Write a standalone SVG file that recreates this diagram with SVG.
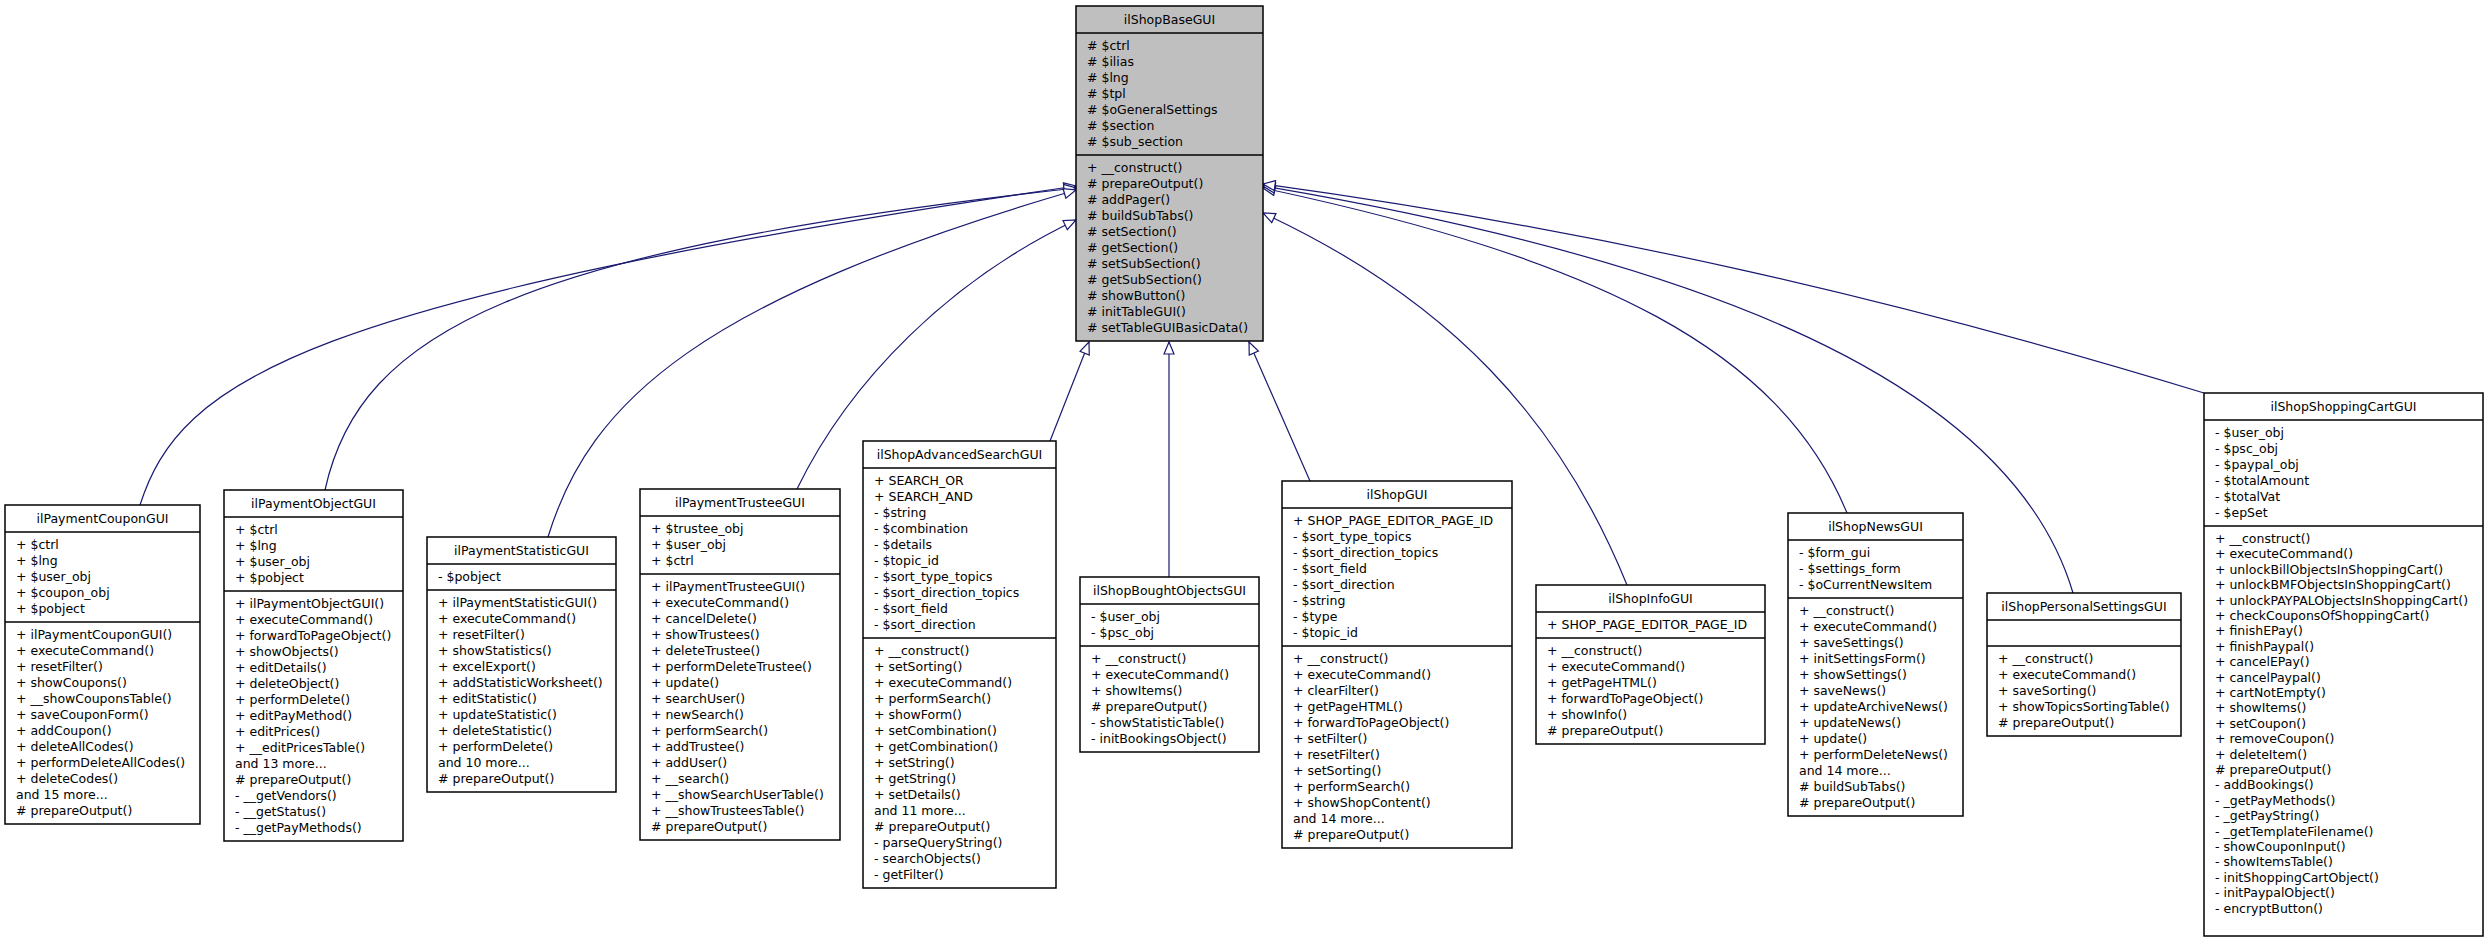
<svg xmlns="http://www.w3.org/2000/svg" width="2488" height="944" viewBox="0 0 2488 944">
<style>
text{font-family:"DejaVu Sans","Liberation Sans",sans-serif;font-size:12.5px;fill:#000}
.h{text-anchor:middle}
.b{fill:#fff;stroke:#000;stroke-width:1.5}
.base{fill:#bfbfbf;stroke:#000;stroke-width:1.5}
.s{stroke:#000;stroke-width:1.5}
.e{fill:none;stroke:#191970;stroke-width:1.2;marker-end:url(#tri)}
</style>
<defs>
<marker id="tri" markerUnits="userSpaceOnUse" markerWidth="14" markerHeight="12" refX="12" refY="5" orient="auto" viewBox="-1 -1 14 12">
<path d="M0,0 L12,5 L0,10 Z" fill="#fff" stroke="#191970" stroke-width="1.2"/>
</marker>
</defs>
<rect width="2488" height="944" fill="#fff"/>
<g id="edges">
<path class="e" d="M140,505 C180,380 300,300 1076,186"/>
<path class="e" d="M325,490 C360,330 520,250 1076,188"/>
<path class="e" d="M548,537 C590,400 700,300 1076,190"/>
<path class="e" d="M797,489 C850,380 950,280 1076,220"/>
<path class="e" d="M1050,441 L1089,342"/>
<path class="e" d="M1169,577 L1169,342"/>
<path class="e" d="M1310,481 L1249,342"/>
<path class="e" d="M1627,585 C1560,420 1450,300 1263,213"/>
<path class="e" d="M1847,513 C1780,350 1600,260 1263,188"/>
<path class="e" d="M2073,593 C2010,380 1700,260 1263,186"/>
<path class="e" d="M2204,393 C1900,300 1600,230 1263,184"/>
</g>
<g id="ilShopBaseGUI">
<rect class="base" x="1076" y="6" width="187" height="335"/>
<line class="s" x1="1076" y1="33" x2="1263" y2="33"/><line class="s" x1="1076" y1="155" x2="1263" y2="155"/>
<text class="h" x="1169.5" y="24">ilShopBaseGUI</text>
<text x="1087" y="50"><tspan x="1087">#  $ctrl</tspan><tspan x="1087" dy="16">#  $ilias</tspan><tspan x="1087" dy="16">#  $lng</tspan><tspan x="1087" dy="16">#  $tpl</tspan><tspan x="1087" dy="16">#  $oGeneralSettings</tspan><tspan x="1087" dy="16">#  $section</tspan><tspan x="1087" dy="16">#  $sub_section</tspan></text>
<text x="1087" y="172"><tspan x="1087">+  __construct()</tspan><tspan x="1087" dy="16">#  prepareOutput()</tspan><tspan x="1087" dy="16">#  addPager()</tspan><tspan x="1087" dy="16">#  buildSubTabs()</tspan><tspan x="1087" dy="16">#  setSection()</tspan><tspan x="1087" dy="16">#  getSection()</tspan><tspan x="1087" dy="16">#  setSubSection()</tspan><tspan x="1087" dy="16">#  getSubSection()</tspan><tspan x="1087" dy="16">#  showButton()</tspan><tspan x="1087" dy="16">#  initTableGUI()</tspan><tspan x="1087" dy="16">#  setTableGUIBasicData()</tspan></text>
</g>
<g id="ilPaymentCouponGUI">
<rect class="b" x="5" y="505" width="195" height="319"/>
<line class="s" x1="5" y1="532" x2="200" y2="532"/><line class="s" x1="5" y1="622" x2="200" y2="622"/>
<text class="h" x="102.5" y="523">ilPaymentCouponGUI</text>
<text x="16" y="549"><tspan x="16">+ $ctrl</tspan><tspan x="16" dy="16">+ $lng</tspan><tspan x="16" dy="16">+ $user_obj</tspan><tspan x="16" dy="16">+ $coupon_obj</tspan><tspan x="16" dy="16">+ $pobject</tspan></text>
<text x="16" y="639"><tspan x="16">+ ilPaymentCouponGUI()</tspan><tspan x="16" dy="16">+ executeCommand()</tspan><tspan x="16" dy="16">+ resetFilter()</tspan><tspan x="16" dy="16">+ showCoupons()</tspan><tspan x="16" dy="16">+ __showCouponsTable()</tspan><tspan x="16" dy="16">+ saveCouponForm()</tspan><tspan x="16" dy="16">+ addCoupon()</tspan><tspan x="16" dy="16">+ deleteAllCodes()</tspan><tspan x="16" dy="16">+ performDeleteAllCodes()</tspan><tspan x="16" dy="16">+ deleteCodes()</tspan><tspan x="16" dy="16">and 15 more...</tspan><tspan x="16" dy="16"># prepareOutput()</tspan></text>
</g>
<g id="ilPaymentObjectGUI">
<rect class="b" x="224" y="490" width="179" height="351"/>
<line class="s" x1="224" y1="517" x2="403" y2="517"/><line class="s" x1="224" y1="591" x2="403" y2="591"/>
<text class="h" x="313.5" y="508">ilPaymentObjectGUI</text>
<text x="235" y="534"><tspan x="235">+ $ctrl</tspan><tspan x="235" dy="16">+ $lng</tspan><tspan x="235" dy="16">+ $user_obj</tspan><tspan x="235" dy="16">+ $pobject</tspan></text>
<text x="235" y="608"><tspan x="235">+ ilPaymentObjectGUI()</tspan><tspan x="235" dy="16">+ executeCommand()</tspan><tspan x="235" dy="16">+ forwardToPageObject()</tspan><tspan x="235" dy="16">+ showObjects()</tspan><tspan x="235" dy="16">+ editDetails()</tspan><tspan x="235" dy="16">+ deleteObject()</tspan><tspan x="235" dy="16">+ performDelete()</tspan><tspan x="235" dy="16">+ editPayMethod()</tspan><tspan x="235" dy="16">+ editPrices()</tspan><tspan x="235" dy="16">+ __editPricesTable()</tspan><tspan x="235" dy="16">and 13 more...</tspan><tspan x="235" dy="16"># prepareOutput()</tspan><tspan x="235" dy="16">- __getVendors()</tspan><tspan x="235" dy="16">- __getStatus()</tspan><tspan x="235" dy="16">- __getPayMethods()</tspan></text>
</g>
<g id="ilPaymentStatisticGUI">
<rect class="b" x="427" y="537" width="189" height="255"/>
<line class="s" x1="427" y1="564" x2="616" y2="564"/><line class="s" x1="427" y1="590" x2="616" y2="590"/>
<text class="h" x="521.5" y="555">ilPaymentStatisticGUI</text>
<text x="438" y="581">- $pobject</text>
<text x="438" y="607"><tspan x="438">+ ilPaymentStatisticGUI()</tspan><tspan x="438" dy="16">+ executeCommand()</tspan><tspan x="438" dy="16">+ resetFilter()</tspan><tspan x="438" dy="16">+ showStatistics()</tspan><tspan x="438" dy="16">+ excelExport()</tspan><tspan x="438" dy="16">+ addStatisticWorksheet()</tspan><tspan x="438" dy="16">+ editStatistic()</tspan><tspan x="438" dy="16">+ updateStatistic()</tspan><tspan x="438" dy="16">+ deleteStatistic()</tspan><tspan x="438" dy="16">+ performDelete()</tspan><tspan x="438" dy="16">and 10 more...</tspan><tspan x="438" dy="16"># prepareOutput()</tspan></text>
</g>
<g id="ilPaymentTrusteeGUI">
<rect class="b" x="640" y="489" width="200" height="351"/>
<line class="s" x1="640" y1="516" x2="840" y2="516"/><line class="s" x1="640" y1="574" x2="840" y2="574"/>
<text class="h" x="740" y="507">ilPaymentTrusteeGUI</text>
<text x="651" y="533"><tspan x="651">+ $trustee_obj</tspan><tspan x="651" dy="16">+ $user_obj</tspan><tspan x="651" dy="16">+ $ctrl</tspan></text>
<text x="651" y="591"><tspan x="651">+ ilPaymentTrusteeGUI()</tspan><tspan x="651" dy="16">+ executeCommand()</tspan><tspan x="651" dy="16">+ cancelDelete()</tspan><tspan x="651" dy="16">+ showTrustees()</tspan><tspan x="651" dy="16">+ deleteTrustee()</tspan><tspan x="651" dy="16">+ performDeleteTrustee()</tspan><tspan x="651" dy="16">+ update()</tspan><tspan x="651" dy="16">+ searchUser()</tspan><tspan x="651" dy="16">+ newSearch()</tspan><tspan x="651" dy="16">+ performSearch()</tspan><tspan x="651" dy="16">+ addTrustee()</tspan><tspan x="651" dy="16">+ addUser()</tspan><tspan x="651" dy="16">+ __search()</tspan><tspan x="651" dy="16">+ __showSearchUserTable()</tspan><tspan x="651" dy="16">+ __showTrusteesTable()</tspan><tspan x="651" dy="16"># prepareOutput()</tspan></text>
</g>
<g id="ilShopAdvancedSearchGUI">
<rect class="b" x="863" y="441" width="193" height="447"/>
<line class="s" x1="863" y1="468" x2="1056" y2="468"/><line class="s" x1="863" y1="638" x2="1056" y2="638"/>
<text class="h" x="959.5" y="459">ilShopAdvancedSearchGUI</text>
<text x="874" y="485"><tspan x="874">+ SEARCH_OR</tspan><tspan x="874" dy="16">+ SEARCH_AND</tspan><tspan x="874" dy="16">- $string</tspan><tspan x="874" dy="16">- $combination</tspan><tspan x="874" dy="16">- $details</tspan><tspan x="874" dy="16">- $topic_id</tspan><tspan x="874" dy="16">- $sort_type_topics</tspan><tspan x="874" dy="16">- $sort_direction_topics</tspan><tspan x="874" dy="16">- $sort_field</tspan><tspan x="874" dy="16">- $sort_direction</tspan></text>
<text x="874" y="655"><tspan x="874">+ __construct()</tspan><tspan x="874" dy="16">+ setSorting()</tspan><tspan x="874" dy="16">+ executeCommand()</tspan><tspan x="874" dy="16">+ performSearch()</tspan><tspan x="874" dy="16">+ showForm()</tspan><tspan x="874" dy="16">+ setCombination()</tspan><tspan x="874" dy="16">+ getCombination()</tspan><tspan x="874" dy="16">+ setString()</tspan><tspan x="874" dy="16">+ getString()</tspan><tspan x="874" dy="16">+ setDetails()</tspan><tspan x="874" dy="16">and 11 more...</tspan><tspan x="874" dy="16"># prepareOutput()</tspan><tspan x="874" dy="16">- parseQueryString()</tspan><tspan x="874" dy="16">- searchObjects()</tspan><tspan x="874" dy="16">- getFilter()</tspan></text>
</g>
<g id="ilShopBoughtObjectsGUI">
<rect class="b" x="1080" y="577" width="179" height="175"/>
<line class="s" x1="1080" y1="604" x2="1259" y2="604"/><line class="s" x1="1080" y1="646" x2="1259" y2="646"/>
<text class="h" x="1169.5" y="595">ilShopBoughtObjectsGUI</text>
<text x="1091" y="621"><tspan x="1091">- $user_obj</tspan><tspan x="1091" dy="16">- $psc_obj</tspan></text>
<text x="1091" y="663"><tspan x="1091">+ __construct()</tspan><tspan x="1091" dy="16">+ executeCommand()</tspan><tspan x="1091" dy="16">+ showItems()</tspan><tspan x="1091" dy="16"># prepareOutput()</tspan><tspan x="1091" dy="16">- showStatisticTable()</tspan><tspan x="1091" dy="16">- initBookingsObject()</tspan></text>
</g>
<g id="ilShopGUI">
<rect class="b" x="1282" y="481" width="230" height="367"/>
<line class="s" x1="1282" y1="508" x2="1512" y2="508"/><line class="s" x1="1282" y1="646" x2="1512" y2="646"/>
<text class="h" x="1397" y="499">ilShopGUI</text>
<text x="1293" y="525"><tspan x="1293">+ SHOP_PAGE_EDITOR_PAGE_ID</tspan><tspan x="1293" dy="16">- $sort_type_topics</tspan><tspan x="1293" dy="16">- $sort_direction_topics</tspan><tspan x="1293" dy="16">- $sort_field</tspan><tspan x="1293" dy="16">- $sort_direction</tspan><tspan x="1293" dy="16">- $string</tspan><tspan x="1293" dy="16">- $type</tspan><tspan x="1293" dy="16">- $topic_id</tspan></text>
<text x="1293" y="663"><tspan x="1293">+ __construct()</tspan><tspan x="1293" dy="16">+ executeCommand()</tspan><tspan x="1293" dy="16">+ clearFilter()</tspan><tspan x="1293" dy="16">+ getPageHTML()</tspan><tspan x="1293" dy="16">+ forwardToPageObject()</tspan><tspan x="1293" dy="16">+ setFilter()</tspan><tspan x="1293" dy="16">+ resetFilter()</tspan><tspan x="1293" dy="16">+ setSorting()</tspan><tspan x="1293" dy="16">+ performSearch()</tspan><tspan x="1293" dy="16">+ showShopContent()</tspan><tspan x="1293" dy="16">and 14 more...</tspan><tspan x="1293" dy="16"># prepareOutput()</tspan></text>
</g>
<g id="ilShopInfoGUI">
<rect class="b" x="1536" y="585" width="229" height="159"/>
<line class="s" x1="1536" y1="612" x2="1765" y2="612"/><line class="s" x1="1536" y1="638" x2="1765" y2="638"/>
<text class="h" x="1650.5" y="603">ilShopInfoGUI</text>
<text x="1547" y="629">+ SHOP_PAGE_EDITOR_PAGE_ID</text>
<text x="1547" y="655"><tspan x="1547">+ __construct()</tspan><tspan x="1547" dy="16">+ executeCommand()</tspan><tspan x="1547" dy="16">+ getPageHTML()</tspan><tspan x="1547" dy="16">+ forwardToPageObject()</tspan><tspan x="1547" dy="16">+ showInfo()</tspan><tspan x="1547" dy="16"># prepareOutput()</tspan></text>
</g>
<g id="ilShopNewsGUI">
<rect class="b" x="1788" y="513" width="175" height="303"/>
<line class="s" x1="1788" y1="540" x2="1963" y2="540"/><line class="s" x1="1788" y1="598" x2="1963" y2="598"/>
<text class="h" x="1875.5" y="531">ilShopNewsGUI</text>
<text x="1799" y="557"><tspan x="1799">- $form_gui</tspan><tspan x="1799" dy="16">- $settings_form</tspan><tspan x="1799" dy="16">- $oCurrentNewsItem</tspan></text>
<text x="1799" y="615"><tspan x="1799">+ __construct()</tspan><tspan x="1799" dy="16">+ executeCommand()</tspan><tspan x="1799" dy="16">+ saveSettings()</tspan><tspan x="1799" dy="16">+ initSettingsForm()</tspan><tspan x="1799" dy="16">+ showSettings()</tspan><tspan x="1799" dy="16">+ saveNews()</tspan><tspan x="1799" dy="16">+ updateArchiveNews()</tspan><tspan x="1799" dy="16">+ updateNews()</tspan><tspan x="1799" dy="16">+ update()</tspan><tspan x="1799" dy="16">+ performDeleteNews()</tspan><tspan x="1799" dy="16">and 14 more...</tspan><tspan x="1799" dy="16"># buildSubTabs()</tspan><tspan x="1799" dy="16"># prepareOutput()</tspan></text>
</g>
<g id="ilShopPersonalSettingsGUI">
<rect class="b" x="1987" y="593" width="194" height="143"/>
<line class="s" x1="1987" y1="620" x2="2181" y2="620"/><line class="s" x1="1987" y1="646" x2="2181" y2="646"/>
<text class="h" x="2084" y="611">ilShopPersonalSettingsGUI</text>
<text x="1998" y="663"><tspan x="1998">+ __construct()</tspan><tspan x="1998" dy="16">+ executeCommand()</tspan><tspan x="1998" dy="16">+ saveSorting()</tspan><tspan x="1998" dy="16">+ showTopicsSortingTable()</tspan><tspan x="1998" dy="16"># prepareOutput()</tspan></text>
</g>
<g id="ilShopShoppingCartGUI">
<rect class="b" x="2204" y="393" width="279" height="543"/>
<line class="s" x1="2204" y1="420" x2="2483" y2="420"/><line class="s" x1="2204" y1="526" x2="2483" y2="526"/>
<text class="h" x="2343.5" y="411">ilShopShoppingCartGUI</text>
<text x="2215" y="437"><tspan x="2215">- $user_obj</tspan><tspan x="2215" dy="16">- $psc_obj</tspan><tspan x="2215" dy="16">- $paypal_obj</tspan><tspan x="2215" dy="16">- $totalAmount</tspan><tspan x="2215" dy="16">- $totalVat</tspan><tspan x="2215" dy="16">- $epSet</tspan></text>
<text x="2215" y="543"><tspan x="2215">+ __construct()</tspan><tspan x="2215" dy="15.4">+ executeCommand()</tspan><tspan x="2215" dy="15.4">+ unlockBillObjectsInShoppingCart()</tspan><tspan x="2215" dy="15.4">+ unlockBMFObjectsInShoppingCart()</tspan><tspan x="2215" dy="15.4">+ unlockPAYPALObjectsInShoppingCart()</tspan><tspan x="2215" dy="15.4">+ checkCouponsOfShoppingCart()</tspan><tspan x="2215" dy="15.4">+ finishEPay()</tspan><tspan x="2215" dy="15.4">+ finishPaypal()</tspan><tspan x="2215" dy="15.4">+ cancelEPay()</tspan><tspan x="2215" dy="15.4">+ cancelPaypal()</tspan><tspan x="2215" dy="15.4">+ cartNotEmpty()</tspan><tspan x="2215" dy="15.4">+ showItems()</tspan><tspan x="2215" dy="15.4">+ setCoupon()</tspan><tspan x="2215" dy="15.4">+ removeCoupon()</tspan><tspan x="2215" dy="15.4">+ deleteItem()</tspan><tspan x="2215" dy="15.4"># prepareOutput()</tspan><tspan x="2215" dy="15.4">- addBookings()</tspan><tspan x="2215" dy="15.4">- _getPayMethods()</tspan><tspan x="2215" dy="15.4">- _getPayString()</tspan><tspan x="2215" dy="15.4">- _getTemplateFilename()</tspan><tspan x="2215" dy="15.4">- showCouponInput()</tspan><tspan x="2215" dy="15.4">- showItemsTable()</tspan><tspan x="2215" dy="15.4">- initShoppingCartObject()</tspan><tspan x="2215" dy="15.4">- initPaypalObject()</tspan><tspan x="2215" dy="15.4">- encryptButton()</tspan></text>
</g>
</svg>
